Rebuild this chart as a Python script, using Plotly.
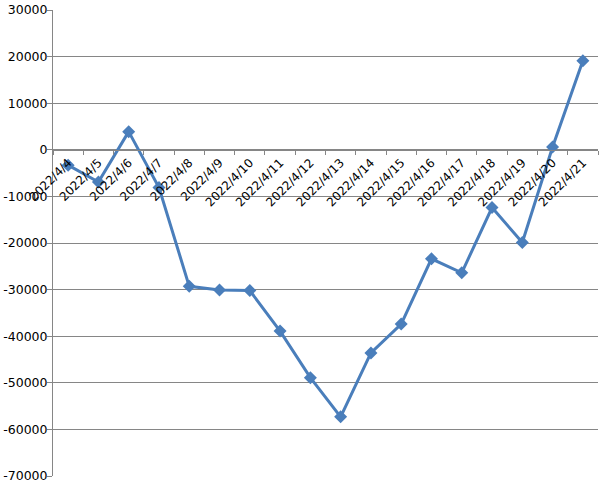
import plotly.graph_objects as go

dates = ["2022/4/4", "2022/4/5", "2022/4/6", "2022/4/7", "2022/4/8", "2022/4/9",
         "2022/4/10", "2022/4/11", "2022/4/12", "2022/4/13", "2022/4/14", "2022/4/15",
         "2022/4/16", "2022/4/17", "2022/4/18", "2022/4/19", "2022/4/20", "2022/4/21"]
values = [-3300, -6900, 3900, -8100, -29300, -30100,
          -30200, -38900, -48900, -57300, -43600, -37400,
          -23400, -26400, -12400, -19900, 600, 19100]
y_ticks = [30000, 20000, 10000, 0, -10000, -20000, -30000, -40000, -50000, -60000, -70000]

fig = go.Figure()
fig.add_trace(go.Scatter(
    x=dates, y=values, mode="lines+markers",
    line=dict(color="#4A7EBB", width=3),
    marker=dict(symbol="diamond", size=10, color="#4A7EBB"),
    showlegend=False,
))

fig.update_layout(
    width=609, height=484,
    margin=dict(l=53, r=11, t=10, b=8, autoexpand=False),
    paper_bgcolor="white", plot_bgcolor="white",
    font=dict(family="DejaVu Sans", size=12, color="#000000"),
    xaxis=dict(
        type="category", anchor="free", position=0.6996, automargin=False,
        showline=True, linecolor="#868686", linewidth=1,
        ticks="outside", ticklen=4, tickcolor="#868686", tickson="boundaries",
        tickangle=-45, showgrid=False, zeroline=False,
        tickfont=dict(family="DejaVu Sans", size=12),
        range=[-0.5, 17.5],
    ),
    yaxis=dict(
        range=[-70000, 30000], tickvals=y_ticks, ticktext=[str(v) for v in y_ticks],
        automargin=False,
        showline=True, linecolor="#868686", linewidth=1,
        ticks="outside", ticklen=5, tickcolor="#868686",
        showgrid=True, gridcolor="#868686", gridwidth=1, zeroline=False,
        tickfont=dict(family="DejaVu Sans", size=12.5),
        ticklabelstandoff=-3,
    ),
)

fig.write_html("out.html", config={"displayModeBar": False},
               post_script="document.body.style.margin='0';")
